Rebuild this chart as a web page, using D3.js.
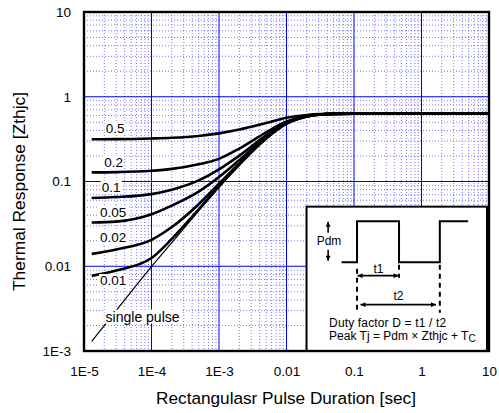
<!DOCTYPE html>
<html>
<head>
<meta charset="utf-8">
<script src="https://cdn.jsdelivr.net/npm/d3@7/dist/d3.min.js"></script>
<style>
    body { margin: 0; background: #fff; }
    text { font-family: "Liberation Sans", Arial, sans-serif; fill: #000; }
</style>
</head>
<body>
<div id="chart"></div>
<script>
// pulse durations (sec) shared by all curves
var pulseTimes = [1.3e-5, 3e-5, 1e-4, 2e-4, 5e-4, 1e-3, 2e-3, 5e-3, 1e-2, 2e-2, 3e-2, 5e-2, 0.1, 1, 10];

// thermal response, one array per duty factor
var duty50 = [0.315, 0.316, 0.322, 0.328, 0.345, 0.370, 0.410, 0.490, 0.565, 0.610, 0.624, 0.629, 0.63, 0.63, 0.63];
var duty20 = [0.128, 0.129, 0.134, 0.141, 0.160, 0.185, 0.245, 0.380, 0.510, 0.594, 0.618, 0.628, 0.63, 0.63, 0.63];
var duty10 = [0.064, 0.0655, 0.071, 0.080, 0.103, 0.139, 0.202, 0.350, 0.495, 0.590, 0.617, 0.628, 0.63, 0.63, 0.63];
var duty05 = [0.0328, 0.0336, 0.041, 0.052, 0.076, 0.113, 0.179, 0.335, 0.488, 0.587, 0.616, 0.628, 0.63, 0.63, 0.63];
var duty02 = [0.0140, 0.0158, 0.0205, 0.029, 0.054, 0.094, 0.163, 0.325, 0.483, 0.586, 0.615, 0.628, 0.63, 0.63, 0.63];
var duty01 = [0.0077, 0.0089, 0.0125, 0.021, 0.047, 0.088, 0.158, 0.322, 0.481, 0.585, 0.615, 0.628, 0.63, 0.63, 0.63];
var singlePulse = [0.0013, 0.003, 0.0099, 0.019, 0.045, 0.085, 0.155, 0.320, 0.480, 0.585, 0.615, 0.628, 0.63, 0.63, 0.63];

var seriesNames = ["0.5", "0.2", "0.1", "0.05", "0.02", "0.01", "single pulse"];
var seriesValues = [duty50, duty20, duty10, duty05, duty02, duty01, singlePulse];

// where each curve label sits (data units)
var labelX = [2.1e-5, 2.0e-5, 1.83e-5, 1.73e-5, 1.73e-5, 1.73e-5, 2.09e-5];
var labelY = [0.373, 0.150, 0.0759, 0.0385, 0.0192, 0.0060, 0.00222];

var xTicks = [1e-5, 1e-4, 1e-3, 1e-2, 0.1, 1, 10];
var xTickLabels = ["1E-5", "1E-4", "1E-3", "0.01", "0.1", "1", "10"];
var yTicks = [1e-3, 0.01, 0.1, 1, 10];
var yTickLabels = ["1E-3", "0.01", "0.1", "1", "10"];

var margin = {top: 12, right: 10, bottom: 62, left: 84};
var width = 499 - margin.left - margin.right,
    height = 413 - margin.top - margin.bottom;

var svg = d3.select("#chart").append("svg")
    .attr("width", width + margin.left + margin.right)
    .attr("height", height + margin.top + margin.bottom)
    .append("g")
    .attr("transform", "translate(" + margin.left + "," + margin.top + ")");

var x = d3.scaleLog().domain([1e-5, 10]).range([0, width]);
var y = d3.scaleLog().domain([1e-3, 10]).range([height, 0]);

// minor grid (2..9 in every decade)
var isMajor = function(v) { return Math.abs(Math.log10(v) - Math.round(Math.log10(v))) < 1e-6; };
var xMinor = x.ticks().filter(function(d) { return !isMajor(d); });
var yMinor = y.ticks().filter(function(d) { return !isMajor(d); });

var grid = svg.append("g");
grid.selectAll(".vminor").data(xMinor).enter().append("line")
    .attr("x1", function(d) { return x(d); }).attr("x2", function(d) { return x(d); })
    .attr("y1", 0).attr("y2", height)
    .attr("stroke", "#4d4dff").attr("stroke-width", 1)
    .attr("stroke-dasharray", "1,2").attr("opacity", 0.75);
grid.selectAll(".hminor").data(yMinor).enter().append("line")
    .attr("y1", function(d) { return y(d); }).attr("y2", function(d) { return y(d); })
    .attr("x1", 0).attr("x2", width)
    .attr("stroke", "#4d4dff").attr("stroke-width", 1)
    .attr("stroke-dasharray", "1,2").attr("opacity", 0.75);

// major grid
grid.selectAll(".vmajor").data(xTicks).enter().append("line")
    .attr("x1", function(d) { return x(d); }).attr("x2", function(d) { return x(d); })
    .attr("y1", 0).attr("y2", height)
    .attr("stroke", "#0000ff").attr("stroke-width", 1);
grid.selectAll(".hmajor").data(yTicks).enter().append("line")
    .attr("y1", function(d) { return y(d); }).attr("y2", function(d) { return y(d); })
    .attr("x1", 0).attr("x2", width)
    .attr("stroke", "#0000ff").attr("stroke-width", 1);

// curves
var line = d3.line()
    .x(function(d) { return x(d[0]); })
    .y(function(d) { return y(d[1]); })
    .curve(d3.curveMonotoneX);

seriesValues.forEach(function(vals, i) {
    var pts = pulseTimes.map(function(t, j) { return [t, vals[j]]; });
    svg.append("path")
        .attr("d", line(pts))
        .attr("fill", "none")
        .attr("stroke", "#000")
        .attr("stroke-width", i == 6 ? 1.2 : 2.6);
});

// curve labels on a white box
seriesNames.forEach(function(name, i) {
    var g = svg.append("g");
    var t = g.append("text")
        .attr("x", x(labelX[i]))
        .attr("y", y(labelY[i]))
        .attr("font-size", i == 6 ? "14px" : "13.5px")
        .text(name);
    var bb = t.node().getBBox();
    g.insert("rect", "text")
        .attr("x", bb.x - 1).attr("y", bb.y + 1)
        .attr("width", bb.width + 2).attr("height", bb.height - 2)
        .attr("fill", "#fff");
});

// inset box with the pulse diagram
var inset = svg.append("g")
    .attr("transform", "translate(" + x(0.0198) + "," + y(0.0505) + ")");
var boxW = width - x(0.0198) - 2, boxH = height - y(0.0505);

inset.append("rect")
    .attr("width", boxW).attr("height", boxH)
    .attr("fill", "#fff").attr("stroke", "#000").attr("stroke-width", 2);

inset.append("path")
    .attr("d", "M35,55.5 H50.5 V14.7 H92.5 V55.5 H133.3 V14.7 H161.6")
    .attr("fill", "none").attr("stroke", "#000").attr("stroke-width", 2);

var dashed = [[50.5, 62, 106], [92.5, 58, 71], [133.3, 58, 106]];
dashed.forEach(function(d) {
    inset.append("line")
        .attr("x1", d[0]).attr("x2", d[0]).attr("y1", d[1]).attr("y2", d[2])
        .attr("stroke", "#000").attr("stroke-width", 2)
        .attr("stroke-dasharray", "5,4");
});

var defs = d3.select("svg").append("defs");
defs.append("marker")
    .attr("id", "head")
    .attr("viewBox", "0 0 10 10")
    .attr("refX", 10).attr("refY", 5)
    .attr("markerWidth", 7).attr("markerHeight", 5)
    .attr("markerUnits", "userSpaceOnUse")
    .attr("orient", "auto-start-reverse")
    .append("path").attr("d", "M0,0 L10,5 L0,10 Z").attr("fill", "#000");

// t1 and t2 arrows
inset.append("line")
    .attr("x1", 51).attr("x2", 92).attr("y1", 69).attr("y2", 69)
    .attr("stroke", "#000").attr("stroke-width", 1.6)
    .attr("marker-start", "url(#head)").attr("marker-end", "url(#head)");
inset.append("line")
    .attr("x1", 54).attr("x2", 129.5).attr("y1", 98).attr("y2", 98)
    .attr("stroke", "#000").attr("stroke-width", 1.6)
    .attr("marker-start", "url(#head)").attr("marker-end", "url(#head)");

// Pdm arrows
inset.append("line")
    .attr("x1", 21.6).attr("x2", 21.6).attr("y1", 26).attr("y2", 15)
    .attr("stroke", "#000").attr("stroke-width", 1.6)
    .attr("marker-end", "url(#head)");
inset.append("line")
    .attr("x1", 21.6).attr("x2", 21.6).attr("y1", 43).attr("y2", 54)
    .attr("stroke", "#000").attr("stroke-width", 1.6)
    .attr("marker-end", "url(#head)");

inset.append("text").attr("x", 22.5).attr("y", 38).attr("text-anchor", "middle")
    .attr("font-size", "12px").text("Pdm");
inset.append("text").attr("x", 72).attr("y", 66.5).attr("text-anchor", "middle")
    .attr("font-size", "12px").text("t1");
inset.append("text").attr("x", 92).attr("y", 93).attr("text-anchor", "middle")
    .attr("font-size", "12px").text("t2");
inset.append("text").attr("x", 22.6).attr("y", 120.5)
    .attr("font-size", "12px").attr("textLength", 117).text("Duty factor D = t1 / t2");
var peak = inset.append("text").attr("x", 22.6).attr("y", 133)
    .attr("font-size", "12px");
peak.append("tspan").text("Peak Tj = Pdm \u00d7 Zthjc + T");
peak.append("tspan").attr("dy", 2.5).attr("font-size", "10px").text("C");

// plot border
svg.append("rect")
    .attr("width", width).attr("height", height)
    .attr("fill", "none").attr("stroke", "#000").attr("stroke-width", 2.4);

// axes
var xAxis = d3.axisBottom(x)
    .tickValues(xTicks)
    .tickFormat(function(d, i) { return xTickLabels[i]; })
    .tickSize(0).tickPadding(15);
var yAxis = d3.axisLeft(y)
    .tickValues(yTicks)
    .tickFormat(function(d, i) { return yTickLabels[i]; })
    .tickSize(0).tickPadding(13);

var gx = svg.append("g").attr("transform", "translate(0," + height + ")").call(xAxis);
var gy = svg.append("g").call(yAxis);
[gx, gy].forEach(function(g) {
    g.select(".domain").remove();
    g.selectAll("text").attr("font-size", "13.5px").attr("font-family", "Liberation Sans, Arial, sans-serif");
});

// axis titles
svg.append("text")
    .attr("x", 286 - margin.left)
    .attr("y", 404 - margin.top)
    .attr("text-anchor", "middle")
    .attr("font-size", "17.2px")
    .text("Rectangulasr Pulse Duration [sec]");

svg.append("text")
    .attr("transform", "translate(" + (25 - margin.left) + "," + (191.5 - margin.top) + ") rotate(-90)")
    .attr("text-anchor", "middle")
    .attr("font-size", "17.4px")
    .text("Thermal Response [Zthjc]");
</script>
</body>
</html>
